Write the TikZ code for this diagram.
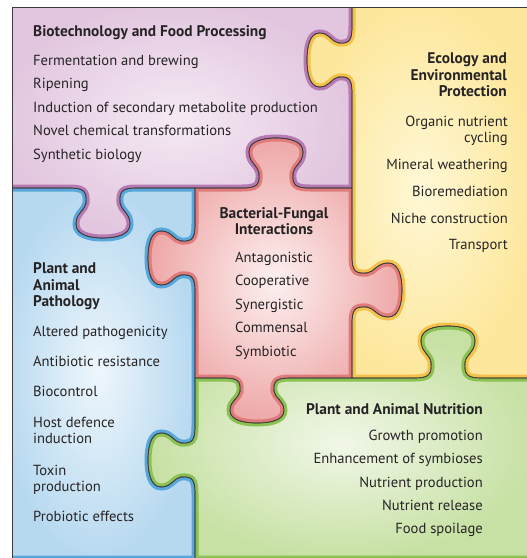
\documentclass[tikz,border=0pt]{standalone}
\usepackage{fontspec}
\setmainfont{PT Sans}
\definecolor{txt}{HTML}{262324}
\definecolor{edge}{HTML}{3E3A3B}
\definecolor{purplein}{HTML}{F5EAF4}
\definecolor{purpleout}{HTML}{E2C6DF}
\definecolor{purpleband}{HTML}{B57AB2}
\definecolor{yellowin}{HTML}{FFF8D6}
\definecolor{yellowout}{HTML}{FDE79C}
\definecolor{yellowband}{HTML}{F3C14C}
\definecolor{redin}{HTML}{FDF0F0}
\definecolor{redout}{HTML}{EEA7A7}
\definecolor{redband}{HTML}{DF7B7B}
\definecolor{bluein}{HTML}{EEF6FC}
\definecolor{blueout}{HTML}{B7D9F0}
\definecolor{blueband}{HTML}{58A6DA}
\definecolor{greenin}{HTML}{F1F7E8}
\definecolor{greenout}{HTML}{C7E1A4}
\definecolor{greenband}{HTML}{8BC152}
% knob on a horizontal edge: centre x, edge y, depth, direction of travel
\newcommand{\htab}[4]{-- ({#1-(#4)*34},#2) .. controls ({#1-(#4)*20},#2) and ({#1-(#4)*16},{#2+0.05*(#3)}) .. ({#1-(#4)*17},{#2+0.3*(#3)}) .. controls ({#1-(#4)*18},{#2+0.45*(#3)}) and ({#1-(#4)*27},{#2+0.5*(#3)}) .. ({#1-(#4)*27},{#2+0.72*(#3)}) .. controls ({#1-(#4)*27},{#2+0.95*(#3)}) and ({#1-(#4)*12},{#2+(#3)}) .. (#1,{#2+(#3)}) .. controls ({#1+(#4)*12},{#2+(#3)}) and ({#1+(#4)*27},{#2+0.95*(#3)}) .. ({#1+(#4)*27},{#2+0.72*(#3)}) .. controls ({#1+(#4)*27},{#2+0.5*(#3)}) and ({#1+(#4)*18},{#2+0.45*(#3)}) .. ({#1+(#4)*17},{#2+0.3*(#3)}) .. controls ({#1+(#4)*16},{#2+0.05*(#3)}) and ({#1+(#4)*20},#2) .. ({#1+(#4)*34},#2)}
% knob on a vertical edge: edge x, centre y, depth, direction of travel
\newcommand{\vtab}[4]{-- (#1,{#2-(#4)*34}) .. controls (#1,{#2-(#4)*20}) and ({#1+0.05*(#3)},{#2-(#4)*16}) .. ({#1+0.3*(#3)},{#2-(#4)*17}) .. controls ({#1+0.45*(#3)},{#2-(#4)*18}) and ({#1+0.5*(#3)},{#2-(#4)*27}) .. ({#1+0.72*(#3)},{#2-(#4)*27}) .. controls ({#1+0.95*(#3)},{#2-(#4)*27}) and ({#1+(#3)},{#2-(#4)*12}) .. ({#1+(#3)},#2) .. controls ({#1+(#3)},{#2+(#4)*12}) and ({#1+0.95*(#3)},{#2+(#4)*27}) .. ({#1+0.72*(#3)},{#2+(#4)*27}) .. controls ({#1+0.5*(#3)},{#2+(#4)*27}) and ({#1+0.45*(#3)},{#2+(#4)*18}) .. ({#1+0.3*(#3)},{#2+(#4)*17}) .. controls ({#1+0.05*(#3)},{#2+(#4)*16}) and (#1,{#2+(#4)*20}) .. (#1,{#2+(#4)*34})}
\newcommand{\purplepiece}{(0,0) -- (352,0) \vtab{352}{60}{-45}{1} -- (352,188) \htab{276}{188}{-50}{-1} \htab{103}{188}{50}{-1} -- (0,188) -- cycle}
\newcommand{\yellowpiece}{(352,0) -- (535,0) -- (535,378) \htab{448}{378}{-52}{-1} -- (352,378) \vtab{352}{290}{50}{-1} \vtab{352}{60}{-45}{-1} -- cycle}
\newcommand{\redpiece}{(195,188) \htab{276}{188}{-50}{1} -- (352,188) \vtab{352}{290}{50}{1} -- (352,378) \htab{257}{378}{45}{-1} -- (195,378) \vtab{195}{258}{-47}{-1} -- cycle}
\newcommand{\bluepiece}{(0,188) \htab{103}{188}{50}{1} -- (195,188) \vtab{195}{258}{-47}{1} \vtab{195}{460}{-47}{1} -- (195,559) -- (0,559) -- cycle}
\newcommand{\greenpiece}{(195,378) \htab{257}{378}{45}{1} \htab{448}{378}{-52}{1} -- (535,378) -- (535,559) -- (195,559) \vtab{195}{460}{-47}{-1} -- cycle}
\begin{document}
\begin{tikzpicture}[x=1pt,y=-1pt]
    \tikzstyle{every node}+=[inner sep=0pt,text=txt,font=\fontsize{14.6}{16.5}\selectfont]
    \tikzstyle{head}=[font=\fontsize{15.4}{16.5}\selectfont\bfseries]
    \useasboundingbox (0,0) rectangle (527,558);
    % pieces
    \begin{scope}
    \clip (12,7) rectangle (527,558);
    \foreach \p/\col in {\purplepiece/purple,\yellowpiece/yellow,\redpiece/red,\bluepiece/blue,\greenpiece/green} {
        \begin{scope}
        \clip \p;
        \shade [inner color=\col in,outer color=\col out] \p;
        \draw [line width=7pt,\col band] \p;
        \end{scope}
    }
    \foreach \p in {\purplepiece,\yellowpiece,\redpiece,\bluepiece,\greenpiece}
        \draw [edge,line width=0.7pt] \p;
    \end{scope}
    \draw [edge,line width=0.8pt] (12,558) -- (12,7) -- (527,7);
    % biotechnology
    \node [head,anchor=base west] (bio) at (33,36.5) {Biotechnology and Food Processing};
    \node [anchor=base west] (bio1) at (33,65.5) {Fermentation and brewing};
    \node [anchor=base west] (bio2) at (33,88.5) {Ripening};
    \node [anchor=base west] (bio3) at (33,112.5) {Induction of secondary metabolite production};
    \node [anchor=base west] (bio4) at (33,135.5) {Novel chemical transformations};
    \node [anchor=base west] (bio5) at (33,159.5) {Synthetic biology};
    % ecology
    \node [head,anchor=base east,align=right] (eco) at (507,96.5) {Ecology and\\Environmental\\Protection};
    \node [anchor=base east,align=right] (eco1) at (508,142.5) {Organic nutrient\\cycling};
    \node [anchor=base east] (eco2) at (508,169.5) {Mineral weathering};
    \node [anchor=base east] (eco3) at (508,196.5) {Bioremediation};
    \node [anchor=base east] (eco4) at (508,223.5) {Niche construction};
    \node [anchor=base east] (eco5) at (508,249.5) {Transport};
    % interactions
    \node [head,anchor=base,align=center] (bf) at (274,234.5) {Bacterial-Fungal\\Interactions};
    \node [anchor=base west] (bf1) at (235,262.5) {Antagonistic};
    \node [anchor=base west] (bf2) at (235,285.5) {Cooperative};
    \node [anchor=base west] (bf3) at (235,309.5) {Synergistic};
    \node [anchor=base west] (bf4) at (235,332.5) {Commensal};
    \node [anchor=base west] (bf5) at (235,356.5) {Symbiotic};
    % pathology
    \node [head,anchor=base west,align=left] (path) at (33,306.5) {Plant and\\Animal\\Pathology};
    \node [anchor=base west] (path1) at (33,336.5) {Altered pathogenicity};
    \node [anchor=base west] (path2) at (33,366.5) {Antibiotic resistance};
    \node [anchor=base west] (path3) at (33,396.5) {Biocontrol};
    \node [anchor=base west,align=left] (path4) at (33,443.5) {Host defence\\induction};
    \node [anchor=base west,align=left] (path5) at (33,491.5) {Toxin\\production};
    \node [anchor=base west] (path6) at (33,521.5) {Probiotic effects};
    % nutrition
    \node [head,anchor=base east] (nut) at (483,414.5) {Plant and Animal Nutrition};
    \node [anchor=base east] (nut1) at (483,440.5) {Growth promotion};
    \node [anchor=base east] (nut2) at (483,463.5) {Enhancement of symbioses};
    \node [anchor=base east] (nut3) at (483,487.5) {Nutrient production};
    \node [anchor=base east] (nut4) at (483,510.5) {Nutrient release};
    \node [anchor=base east] (nut5) at (483,533.5) {Food spoilage};
\end{tikzpicture}
\end{document}
